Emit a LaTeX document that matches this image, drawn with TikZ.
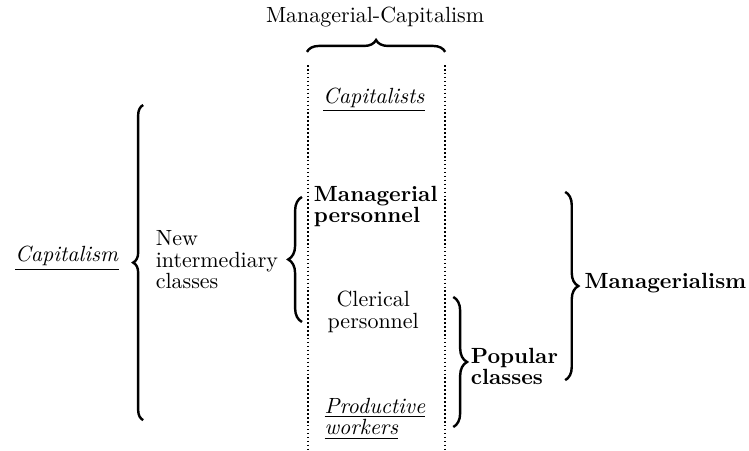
\documentclass[tikz,border=0pt]{standalone}
\usetikzlibrary{decorations.pathreplacing}

\tikzset{
    bigbrace/.style={decorate,decoration={brace,amplitude=#1},line width=1.1pt},
    bigbrace/.default=0.2cm,
    column/.style={line width=0.7pt,dash pattern=on 0.7pt off 1.1pt},
    label/.style={inner sep=1pt,align=left,font=\fontsize{10pt}{9.8pt}\selectfont},
    strong/.style={label,font=\fontsize{10pt}{9.8pt}\selectfont\bfseries}
}

\begin{document}
\begin{tikzpicture}
    \useasboundingbox (0,0) rectangle (11.98,-7.2);

    % Column of the combined class structure
    \node[label] (mancap) at (6.0,-0.27) {Managerial-Capitalism};
    \draw[bigbrace=0.19cm] (4.91,-0.83) -- (7.12,-0.83);
    \draw[column] (4.93,-1.04) -- (4.93,-7.2);
    \draw[column] (7.12,-1.04) -- (7.12,-7.2);

    % Classes inside the column
    \node[label] (capitalists) at (5.98,-1.6) {\underline{\textit{Capitalists}}};
    \node[strong,anchor=west] (managers) at (4.98,-3.30) {Managerial\\personnel};
    \node[label,align=center] (clerks) at (5.97,-4.99) {Clerical\\personnel};
    \node[label,anchor=west] (workers) at (5.15,-6.70)
        {\underline{\textit{Productive}}\\\underline{\textit{workers}}};

    % Left side
    \node[label] (capitalism) at (1.07,-4.13) {\underline{\textit{Capitalism}}};
    \draw[bigbrace=0.16cm] (2.29,-6.72) -- (2.29,-1.68);
    \node[label,anchor=west] (intermediary) at (2.45,-4.16) {New\\intermediary\\classes};
    \draw[bigbrace=0.22cm] (4.83,-5.15) -- (4.83,-3.15);

    % Right side
    \draw[bigbrace=0.22cm] (7.25,-4.75) -- (7.25,-6.83);
    \node[strong,anchor=west] (popular) at (7.49,-5.86) {Popular\\classes};
    \draw[bigbrace=0.21cm] (9.04,-3.07) -- (9.04,-6.08);
    \node[strong,anchor=west] (managerialism) at (9.31,-4.53) {Managerialism};
\end{tikzpicture}
\end{document}
